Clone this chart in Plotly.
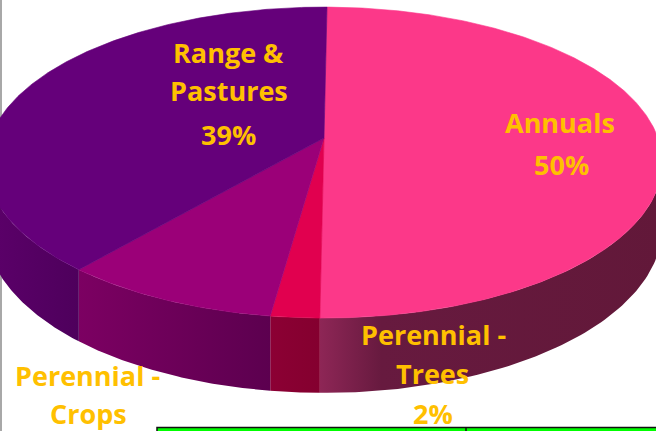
import numpy as np
import plotly.graph_objects as go

# ---------------- data ----------------
categories = ["Annuals", "Perennial - Trees", "Perennial - Crops", "Range & Pastures"]
shares = [50, 2, 9, 39]
label_lines = [["Annuals"], ["Perennial -", "Trees"], ["Perennial -", "Crops"], ["Range &", "Pastures"]]
show_pct = [True, True, False, True]

# ---------------- style ----------------
top_colors = ["#FC3889", "#E1004F", "#9B0078", "#65007A"]
side_scales = [
    [[0, "#8E2656"], [0.18, "#671A3F"], [1, "#621839"]],
    [[0, "#8C0034"], [1, "#84002F"]],
    [[0, "#7C0062"], [1, "#5C004F"]],
    [[0, "#5C006A"], [1, "#4E005C"]],
]
label_pos = [  # per label: list of (x, y) for each text line (+ pct line)
    [(560, 122), (561, 164)],
    [(433, 334), (432, 373), (433, 413)],
    [(87, 375), (88, 413)],
    [(228, 52), (229, 90), (228, 134)],
]
GOLD = "#FFC000"
FONT = "Open Sans"
FSIZE = 27

W, H = 656, 431
CX, CY = 324.0, 138.0
A, B, K = 334.0, 151.6, 0.158
DEPTH = 63.0
START = 0.6


def proj(phi_deg, drop=0.0):
    p = np.radians(phi_deg)
    u, v = np.sin(p), np.cos(p)
    w = 1 + K * v
    return CX + A * u / w, CY - B * v / w + drop / w


phi_l = 90 + np.degrees(np.arcsin(K))
phi_r = 360 - phi_l

fig = go.Figure()
bounds = []
acc = START
for s in shares:
    bounds.append((acc, acc + s * 3.6))
    acc += s * 3.6

# side walls
for (a0, a1), cs in zip(bounds, side_scales):
    lo, hi = max(a0, phi_l), min(a1, phi_r)
    if lo >= hi:
        continue
    ph = np.linspace(lo, hi, 80)
    xt, yt = proj(ph)
    xb, yb = proj(ph[::-1], DEPTH)
    xs = np.concatenate([xt, xb, xt[:1]])
    ys = np.concatenate([yt, yb, yt[:1]])
    fig.add_trace(go.Scatter(x=xs, y=ys, mode="lines", fill="toself",
                             fillgradient=dict(type="horizontal", colorscale=cs),
                             line=dict(width=0), hoverinfo="skip"))

# top faces
for (a0, a1), col in zip(bounds, top_colors):
    ph = np.linspace(a0, a1, max(4, int((a1 - a0) * 2)))
    xa, ya = proj(ph)
    xs = np.concatenate([[CX], xa, [CX]])
    ys = np.concatenate([[CY], ya, [CY]])
    fig.add_trace(go.Scatter(x=xs, y=ys, mode="lines", fill="toself",
                             fillcolor=col, line=dict(width=0.6, color=col),
                             hoverinfo="skip"))

# labels
annotations = []
for lines, s, pct, pos in zip(label_lines, shares, show_pct, label_pos):
    texts = list(lines) + ([f"{s}%"] if pct else [])
    for t, (x, y) in zip(texts, pos):
        annotations.append(dict(x=x, y=y, xref="x", yref="y", text=t, showarrow=False,
                                xanchor="center", yanchor="middle",
                                font=dict(family=FONT, size=FSIZE, color=GOLD, weight="bold")))

shapes = [
    dict(type="line", x0=1, x1=1, y0=0, y1=431, xref="x", yref="y",
         line=dict(color="#A8A8A8", width=2), layer="below"),
    dict(type="rect", x0=157, x1=660, y0=427.5, y1=433, xref="x", yref="y",
         fillcolor="#00FF00", line=dict(color="#111111", width=1.5)),
    dict(type="line", x0=466, x1=466, y0=427, y1=431, xref="x", yref="y",
         line=dict(color="#111111", width=1.5)),
]

fig.update_layout(
    width=W, height=H, margin=dict(l=0, r=0, t=0, b=0),
    paper_bgcolor="white", plot_bgcolor="white", showlegend=False,
    xaxis=dict(range=[0, W], visible=False, fixedrange=True),
    yaxis=dict(range=[H, 0], visible=False, fixedrange=True),
    annotations=annotations, shapes=shapes,
)
fig.write_html("out.html", config={"displayModeBar": False},
               post_script="document.body.style.margin='0';document.body.style.overflow='hidden';")
